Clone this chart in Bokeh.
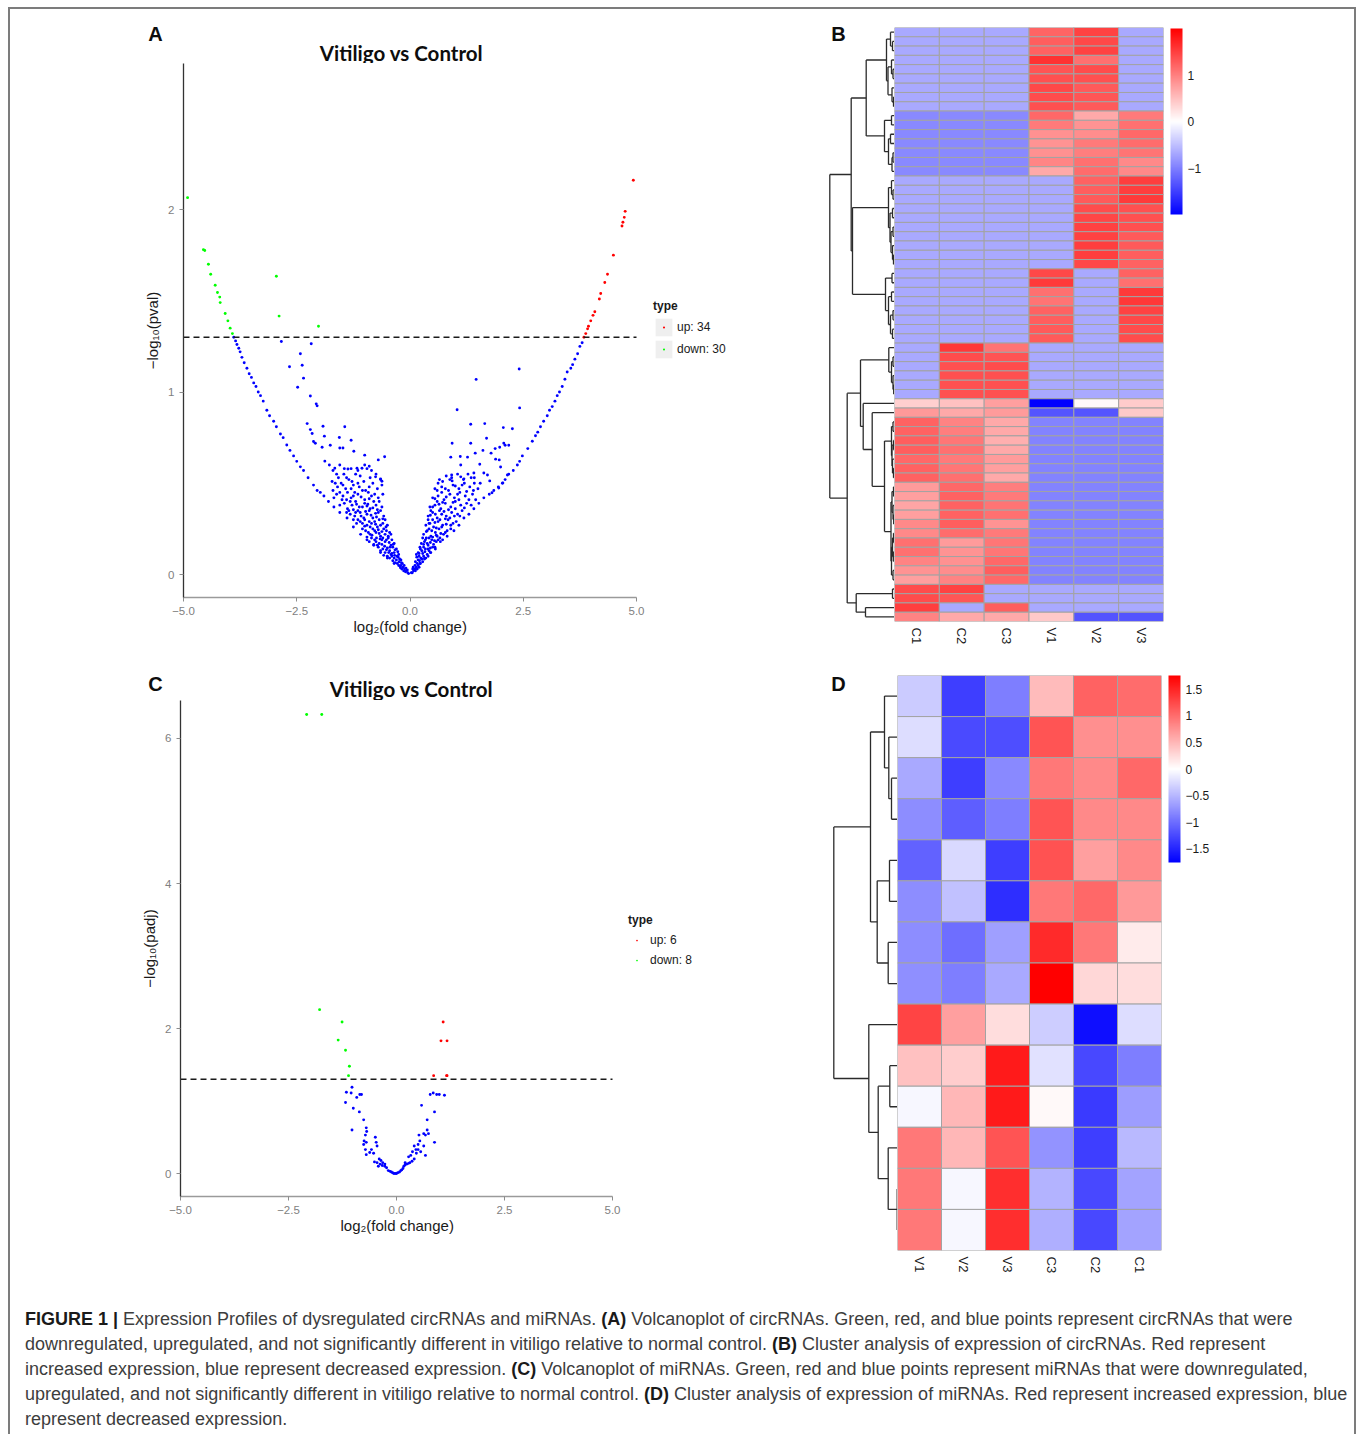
import math
from bokeh.plotting import figure
from bokeh.models import (Range1d, FactorRange, FixedTicker, Label, Legend, LegendItem, Title,
                          ColumnDataSource, LinearColorMapper, ColorBar, Div, Spacer)
from bokeh.layouts import row, column
from bokeh.embed import file_html
from bokeh.resources import INLINE

# ---------------- DATA ----------------
# Panel A: circRNA volcano (log2 fold change, -log10 pval)
a_green = [(-4.91, 2.065), (-4.56, 1.78), (-4.53, 1.775), (-4.45, 1.70), (-4.40, 1.645), (-4.30, 1.585),
           (-4.25, 1.545), (-4.20, 1.52), (-4.19, 1.49), (-4.08, 1.43), (-4.02, 1.39), (-3.97, 1.35),
           (-3.92, 1.32), (-2.95, 1.634), (-2.89, 1.416), (-2.02, 1.36)]
a_red = [(4.93, 2.16), (4.75, 1.99), (4.73, 1.957), (4.70, 1.93), (4.68, 1.91), (4.49, 1.75), (4.36, 1.645),
         (4.30, 1.60), (4.21, 1.54), (4.18, 1.51), (4.08, 1.44), (4.04, 1.42), (3.99, 1.39), (3.94, 1.36),
         (3.92, 1.346), (3.88, 1.32), (3.84, 1.30)]
a_blue_left_edge = [(-3.89, 1.30), (-3.85, 1.28), (-3.82, 1.26), (-3.78, 1.24), (-3.75, 1.22), (-3.71, 1.19),
                    (-3.66, 1.16), (-3.60, 1.13), (-3.55, 1.10), (-3.50, 1.08), (-3.45, 1.05), (-3.40, 1.03),
                    (-3.35, 1.00), (-3.30, 0.98), (-3.24, 0.95), (-3.16, 0.90), (-3.10, 0.87), (-3.01, 0.84),
                    (-2.95, 0.81), (-2.86, 0.77), (-2.80, 0.75), (-2.72, 0.71), (-2.65, 0.68), (-2.57, 0.65),
                    (-2.50, 0.62), (-2.42, 0.59), (-2.35, 0.57), (-2.25, 0.53), (-2.13, 0.49), (-2.05, 0.46),
                    (-1.98, 0.45), (-1.90, 0.43), (-1.80, 0.40), (-1.68, 0.37), (-1.55, 0.34), (-1.39, 0.31),
                    (-1.25, 0.26), (-1.09, 0.22), (-0.95, 0.19), (-0.80, 0.16), (-0.65, 0.12), (-0.50, 0.09),
                    (-0.35, 0.06), (-0.21, 0.037)]
a_blue_left_cloud = [
    (-0.05, 0.01), (-0.08, 0.02), (-0.12, 0.03), (-0.10, 0.015), (-0.15, 0.04), (-0.18, 0.03), (-0.20, 0.05),
    (-0.22, 0.045), (-0.06, 0.025), (-0.14, 0.02), (-0.25, 0.05), (-0.03, 0.005),
    (-0.17, 0.06), (-0.24, 0.07), (-0.30, 0.08), (-0.35, 0.09), (-0.28, 0.06), (-0.40, 0.10), (-0.20, 0.08),
    (-0.33, 0.065), (-0.45, 0.09), (-0.38, 0.075), (-0.26, 0.095), (-0.50, 0.10),
    (-0.25, 0.11), (-0.35, 0.12), (-0.45, 0.13), (-0.55, 0.12), (-0.60, 0.14), (-0.30, 0.14), (-0.50, 0.145),
    (-0.65, 0.13), (-0.40, 0.115), (-0.70, 0.15), (-0.38, 0.15), (-0.58, 0.105),
    (-0.35, 0.17), (-0.42, 0.16), (-0.55, 0.18), (-0.68, 0.17), (-0.78, 0.19), (-0.85, 0.20), (-0.48, 0.20),
    (-0.62, 0.19), (-0.72, 0.16), (-0.90, 0.18), (-0.40, 0.19), (-0.80, 0.165),
    (-0.42, 0.22), (-0.52, 0.24), (-0.65, 0.21), (-0.75, 0.23), (-0.88, 0.22), (-0.98, 0.24), (-1.05, 0.25),
    (-0.58, 0.25), (-0.70, 0.245), (-0.82, 0.25), (-0.48, 0.21), (-0.95, 0.205),
    (-0.50, 0.27), (-0.60, 0.28), (-0.72, 0.26), (-0.85, 0.28), (-0.95, 0.27), (-1.10, 0.29), (-1.18, 0.28),
    (-0.68, 0.30), (-1.00, 0.30), (-0.55, 0.30), (-0.78, 0.29), (-1.25, 0.30),
    (-0.58, 0.32), (-0.70, 0.34), (-0.82, 0.31), (-0.95, 0.33), (-1.08, 0.32), (-1.20, 0.34), (-1.32, 0.33),
    (-0.65, 0.35), (-0.90, 0.35), (-1.15, 0.35), (-1.40, 0.34), (-0.76, 0.335),
    (-0.62, 0.37), (-0.75, 0.38), (-0.88, 0.36), (-1.00, 0.39), (-1.12, 0.37), (-1.28, 0.38), (-1.45, 0.39),
    (-1.55, 0.38), (-0.68, 0.40), (-1.20, 0.40), (-1.38, 0.36), (-0.95, 0.375),
    (-0.70, 0.42), (-0.85, 0.43), (-1.00, 0.41), (-1.15, 0.44), (-1.30, 0.42), (-1.48, 0.43), (-1.62, 0.44),
    (-0.60, 0.44), (-0.92, 0.45), (-1.22, 0.45), (-1.40, 0.41), (-1.68, 0.42),
    (-0.72, 0.47), (-0.90, 0.48), (-1.05, 0.46), (-1.25, 0.49), (-1.42, 0.47), (-1.60, 0.48), (-1.70, 0.46),
    (-0.62, 0.49), (-1.15, 0.50), (-1.52, 0.50),
    (-0.65, 0.52), (-0.88, 0.53), (-1.10, 0.54), (-1.35, 0.52), (-1.58, 0.53), (-1.72, 0.51), (-1.20, 0.55),
    (-1.46, 0.55), (-0.85, 0.57), (-1.00, 0.60), (-1.30, 0.58), (-1.55, 0.60), (-1.70, 0.57), (-1.78, 0.60),
    (-0.95, 0.58)]
a_blue_left_dense = [
    (-0.09, 0.035), (-0.13, 0.05), (-0.19, 0.065), (-0.23, 0.085), (-0.29, 0.10), (-0.34, 0.105),
    (-0.42, 0.11), (-0.47, 0.12), (-0.52, 0.135), (-0.27, 0.125), (-0.33, 0.135), (-0.44, 0.15),
    (-0.56, 0.155), (-0.62, 0.165), (-0.75, 0.18), (-0.37, 0.165), (-0.46, 0.175), (-0.52, 0.19),
    (-0.60, 0.20), (-0.66, 0.195), (-0.74, 0.20), (-0.84, 0.215), (-0.92, 0.23), (-0.45, 0.23),
    (-0.55, 0.22), (-0.62, 0.235), (-0.68, 0.225), (-0.78, 0.24), (-0.88, 0.26), (-1.00, 0.265),
    (-1.05, 0.28), (-0.53, 0.26), (-0.65, 0.27), (-0.76, 0.275), (-0.90, 0.29), (-1.02, 0.31),
    (-1.15, 0.30), (-1.22, 0.32), (-0.60, 0.305), (-0.74, 0.315), (-0.86, 0.325), (-0.98, 0.345),
    (-1.10, 0.34), (-1.25, 0.355), (-1.35, 0.35), (-0.72, 0.355), (-0.82, 0.365), (-0.93, 0.385),
    (-1.05, 0.37), (-1.18, 0.385), (-1.32, 0.40), (-1.50, 0.41), (-0.80, 0.40), (-0.90, 0.415),
    (-1.08, 0.425), (-1.25, 0.43), (-1.38, 0.45), (-1.55, 0.45), (-0.78, 0.44), (-0.98, 0.46),
    (-1.12, 0.48), (-1.30, 0.47), (-1.48, 0.49), (-1.65, 0.50), (-0.82, 0.50), (-1.02, 0.51),
    (-1.28, 0.51), (-1.40, 0.53), (-1.62, 0.55), (-0.75, 0.55), (-1.15, 0.57), (-1.45, 0.58)]
a_blue_left_sparse = [(-2.84, 1.277), (-2.42, 1.21), (-2.38, 1.147), (-2.66, 1.138), (-2.18, 1.264),
                      (-2.35, 1.076), (-2.48, 1.026), (-2.20, 0.978), (-2.07, 0.935), (-2.05, 0.924),
                      (-2.27, 0.827), (-2.20, 0.794), (-2.16, 0.773), (-2.13, 0.729), (-2.09, 0.719),
                      (-1.92, 0.812), (-1.89, 0.758), (-1.44, 0.81), (-1.56, 0.751), (-1.30, 0.736),
                      (-1.76, 0.708), (-1.94, 0.697), (-1.55, 0.693), (-1.48, 0.693), (-1.24, 0.675),
                      (-1.00, 0.654), (-0.56, 0.645), (-0.70, 0.628), (-1.88, 0.621), (-1.66, 0.582),
                      (-1.37, 0.578), (-1.17, 0.582), (-1.06, 0.582), (-0.90, 0.593), (-0.76, 0.535),
                      (-0.65, 0.524), (-0.62, 0.511)]
a_blue_right_edge = [(3.80, 1.27), (3.75, 1.25), (3.70, 1.21), (3.64, 1.18), (3.59, 1.15), (3.55, 1.13),
                     (3.47, 1.11), (3.42, 1.07), (3.36, 1.03), (3.30, 1.00), (3.25, 0.98), (3.20, 0.95),
                     (3.14, 0.92), (3.08, 0.90), (3.03, 0.87), (2.95, 0.84), (2.88, 0.81), (2.82, 0.78),
                     (2.77, 0.76), (2.70, 0.73), (2.60, 0.69), (2.48, 0.65), (2.42, 0.62), (2.37, 0.60),
                     (2.28, 0.57), (2.18, 0.55), (2.10, 0.52), (2.04, 0.50), (1.95, 0.48), (1.85, 0.46),
                     (1.75, 0.44), (1.63, 0.42), (1.52, 0.39), (1.41, 0.36), (1.30, 0.33), (1.19, 0.31),
                     (1.08, 0.27), (0.97, 0.24), (0.82, 0.21), (0.67, 0.18), (0.55, 0.15), (0.45, 0.12),
                     (0.33, 0.09), (0.23, 0.06), (0.12, 0.03)]
a_blue_right_cloud = [
    (0.05, 0.01), (0.08, 0.02), (0.10, 0.03), (0.14, 0.04), (0.12, 0.02), (0.18, 0.05), (0.06, 0.03),
    (0.20, 0.04), (0.16, 0.03), (0.03, 0.01),
    (0.12, 0.07), (0.18, 0.08), (0.24, 0.09), (0.30, 0.10), (0.22, 0.06), (0.35, 0.09), (0.15, 0.095),
    (0.28, 0.07), (0.40, 0.10), (0.20, 0.10),
    (0.18, 0.12), (0.26, 0.13), (0.34, 0.14), (0.42, 0.13), (0.50, 0.15), (0.22, 0.15), (0.38, 0.11),
    (0.46, 0.12), (0.56, 0.14), (0.30, 0.15),
    (0.25, 0.17), (0.32, 0.18), (0.40, 0.16), (0.48, 0.19), (0.58, 0.18), (0.66, 0.20), (0.36, 0.20),
    (0.52, 0.165), (0.72, 0.19), (0.28, 0.20),
    (0.30, 0.22), (0.38, 0.24), (0.46, 0.21), (0.56, 0.23), (0.64, 0.25), (0.74, 0.22), (0.82, 0.24),
    (0.42, 0.25), (0.90, 0.25), (0.60, 0.21),
    (0.35, 0.27), (0.44, 0.28), (0.52, 0.26), (0.62, 0.29), (0.72, 0.27), (0.84, 0.30), (0.95, 0.28),
    (0.50, 0.30), (1.02, 0.29), (0.40, 0.30),
    (0.40, 0.32), (0.50, 0.34), (0.60, 0.31), (0.70, 0.33), (0.80, 0.32), (0.92, 0.34), (1.05, 0.33),
    (1.15, 0.35), (0.46, 0.35), (0.65, 0.35),
    (0.44, 0.37), (0.55, 0.38), (0.68, 0.36), (0.78, 0.39), (0.90, 0.37), (1.00, 0.40), (1.12, 0.38),
    (1.25, 0.39), (0.60, 0.40), (1.35, 0.38),
    (0.50, 0.42), (0.62, 0.43), (0.75, 0.41), (0.88, 0.44), (0.98, 0.42), (1.10, 0.45), (1.22, 0.43),
    (1.38, 0.44), (1.45, 0.41), (0.70, 0.45),
    (0.55, 0.47), (0.70, 0.48), (0.85, 0.46), (0.95, 0.49), (1.08, 0.47), (1.20, 0.50), (1.32, 0.48),
    (1.50, 0.47), (0.62, 0.50),
    (0.65, 0.52), (0.80, 0.54), (0.92, 0.53), (1.05, 0.55), (1.18, 0.52), (1.28, 0.55), (1.42, 0.53),
    (1.55, 0.50)]
a_blue_right_dense = [
    (0.07, 0.04), (0.11, 0.05), (0.16, 0.06), (0.21, 0.075), (0.26, 0.085), (0.32, 0.085), (0.14, 0.11),
    (0.20, 0.115), (0.28, 0.115), (0.33, 0.125), (0.40, 0.14), (0.45, 0.145), (0.23, 0.14), (0.30, 0.165),
    (0.38, 0.17), (0.45, 0.175), (0.54, 0.185), (0.62, 0.19), (0.34, 0.19), (0.42, 0.20), (0.50, 0.205),
    (0.58, 0.215), (0.68, 0.225), (0.78, 0.23), (0.36, 0.235), (0.48, 0.24), (0.58, 0.255), (0.70, 0.26),
    (0.80, 0.275), (0.90, 0.27), (0.42, 0.28), (0.55, 0.285), (0.66, 0.30), (0.78, 0.305), (0.88, 0.31),
    (0.98, 0.32), (1.10, 0.32), (0.45, 0.325), (0.56, 0.33), (0.75, 0.345), (0.85, 0.355), (1.00, 0.36),
    (1.20, 0.365), (0.50, 0.37), (0.64, 0.385), (0.72, 0.395), (0.95, 0.395), (1.08, 0.41), (1.30, 0.41),
    (0.55, 0.415), (0.80, 0.425), (1.05, 0.44), (1.25, 0.455), (1.40, 0.46), (0.60, 0.46), (0.78, 0.47),
    (1.00, 0.485), (1.15, 0.49), (1.42, 0.50), (0.72, 0.51), (0.88, 0.52), (1.12, 0.535), (1.35, 0.53)]
a_blue_right_sparse = [(2.41, 1.126), (1.46, 1.069), (2.42, 0.913), (1.04, 0.903), (1.34, 0.823),
                       (1.65, 0.827), (2.06, 0.805), (2.26, 0.799), (0.93, 0.719), (1.34, 0.719),
                       (1.69, 0.747), (2.07, 0.719), (2.10, 0.708), (1.98, 0.697), (2.18, 0.708),
                       (1.88, 0.690), (1.61, 0.680), (1.44, 0.665), (1.79, 0.665), (1.27, 0.643),
                       (1.11, 0.647), (0.90, 0.643), (1.97, 0.628), (1.89, 0.632), (2.00, 0.589),
                       (1.54, 0.604), (1.41, 0.556), (1.12, 0.600), (0.92, 0.545), (0.93, 0.513),
                       (1.19, 0.524), (1.63, 0.556), (1.71, 0.545), (1.76, 0.513), (2.15, 0.545),
                       (1.96, 0.474), (1.81, 0.448), (2.05, 0.502)]

# Panel C: miRNA volcano (log2 fold change, -log10 padj)
c_green = [(-2.08, 6.33), (-1.73, 6.33), (-1.78, 2.26), (-1.26, 2.09), (-1.35, 1.84), (-1.18, 1.70),
           (-1.09, 1.48), (-1.11, 1.35)]
c_red = [(1.08, 2.09), (1.03, 1.83), (1.17, 1.83), (0.86, 1.35), (1.17, 1.35), (1.16, 1.35)]
c_blue = [(-1.03, 1.19), (-1.05, 1.11), (-1.16, 1.12), (-0.85, 1.09), (-0.81, 1.09), (-1.18, 0.98),
          (-0.92, 1.05), (-1.00, 0.90), (-0.86, 0.85), (-0.76, 0.74), (-0.70, 0.63), (-0.69, 0.58),
          (-0.72, 0.53), (-1.03, 0.60), (-0.75, 0.45), (-0.70, 0.43), (-0.76, 0.40), (-0.72, 0.33),
          (-0.70, 0.26), (-0.49, 0.50), (-0.47, 0.43), (-0.45, 0.38), (-0.58, 0.33), (-0.53, 0.28),
          (-0.62, 0.29), (-0.40, 0.20), (-0.51, 0.16), (-0.45, 0.15), (-0.36, 0.18), (-0.32, 0.15),
          (-0.27, 0.13), (-0.27, 0.10), (-0.23, 0.08), (-0.19, 0.04), (-0.15, 0.03), (-0.12, 0.02),
          (-0.09, 0.01), (-0.06, 0.00), (-0.03, 0.00), (0.00, 0.00), (0.03, 0.01), (0.07, 0.02),
          (0.10, 0.04), (0.12, 0.05), (0.15, 0.07), (0.17, 0.10), (0.20, 0.12), (0.24, 0.13),
          (0.28, 0.14), (0.31, 0.15), (0.36, 0.17), (0.41, 0.20), (0.46, 0.28), (0.41, 0.38),
          (0.50, 0.40), (0.54, 0.45), (0.52, 0.53), (0.63, 0.55), (0.67, 0.53), (0.74, 0.55),
          (0.71, 0.60), (0.63, 0.38), (0.67, 0.25), (0.88, 0.43), (0.71, 0.74), (0.58, 0.94),
          (0.88, 0.85), (0.78, 1.09), (0.85, 1.11), (0.93, 1.09), (0.99, 1.09), (1.11, 1.08),
          (0.50, 0.33), (0.37, 0.30), (0.28, 0.23), (0.20, 0.15), (-0.38, 0.13), (-0.42, 0.10),
          (-0.33, 0.11), (0.45, 0.33), (0.56, 0.30), (0.33, 0.25)]

a_threshold = 1.30
c_threshold = 1.30
x_ticks = [-5, -2.5, 0, 2.5, 5]
x_tick_labels = ["\u22125.0", "\u22122.5", "0.0", "2.5", "5.0"]
a_y_ticks = [0, 1, 2]
c_y_ticks = [0, 2, 4, 6]
a_legend_labels = ["up: 34", "down: 30"]
c_legend_labels = ["up: 6", "down: 8"]
plot_title = "Vitiligo vs Control"
x_label = "log\u2082(fold change)"

# Panel B: circRNA heatmap (row-scaled expression)
b_samples = ["C1", "C2", "C3", "V1", "V2", "V3"]
b_values = [
    [-0.68, -0.68, -0.68, 1.20, 1.47, -0.68],
    [-0.68, -0.68, -0.68, 1.25, 1.43, -0.68],
    [-0.68, -0.68, -0.68, 1.22, 1.47, -0.68],
    [-0.68, -0.68, -0.68, 1.60, 1.12, -0.68],
    [-0.68, -0.68, -0.68, 1.33, 1.40, -0.68],
    [-0.68, -0.68, -0.68, 1.37, 1.37, -0.68],
    [-0.68, -0.68, -0.68, 1.42, 1.29, -0.68],
    [-0.68, -0.68, -0.68, 1.40, 1.31, -0.68],
    [-0.68, -0.68, -0.68, 1.37, 1.28, -0.68],
    [-0.93, -0.93, -0.93, 1.17, 0.67, 1.04],
    [-0.93, -0.93, -0.93, 1.04, 0.84, 1.12],
    [-0.93, -0.93, -0.93, 0.87, 0.90, 1.17],
    [-0.93, -0.93, -0.93, 0.84, 1.03, 1.15],
    [-0.93, -0.93, -0.93, 0.87, 1.00, 1.09],
    [-0.93, -0.93, -0.93, 0.95, 1.12, 0.93],
    [-0.93, -0.93, -0.93, 0.68, 1.15, 0.92],
    [-0.67, -0.67, -0.67, -0.67, 1.22, 1.50],
    [-0.67, -0.67, -0.67, -0.67, 1.25, 1.50],
    [-0.67, -0.67, -0.67, -0.67, 1.28, 1.53],
    [-0.67, -0.67, -0.67, -0.67, 1.40, 1.37],
    [-0.67, -0.67, -0.67, -0.67, 1.45, 1.36],
    [-0.67, -0.67, -0.67, -0.67, 1.47, 1.37],
    [-0.67, -0.67, -0.67, -0.67, 1.47, 1.29],
    [-0.67, -0.67, -0.67, -0.67, 1.50, 1.28],
    [-0.67, -0.67, -0.67, -0.67, 1.50, 1.25],
    [-0.67, -0.67, -0.67, -0.67, 1.43, 1.22],
    [-0.67, -0.67, -0.67, 1.43, -0.67, 1.22],
    [-0.67, -0.67, -0.67, 1.53, -0.67, 1.12],
    [-0.67, -0.67, -0.67, 1.12, -0.67, 1.53],
    [-0.67, -0.67, -0.67, 1.09, -0.67, 1.56],
    [-0.67, -0.67, -0.67, 1.22, -0.67, 1.47],
    [-0.67, -0.67, -0.67, 1.25, -0.67, 1.43],
    [-0.67, -0.67, -0.67, 1.28, -0.67, 1.40],
    [-0.67, -0.67, -0.67, 1.29, -0.67, 1.40],
    [-0.67, 1.55, 1.09, -0.67, -0.67, -0.67],
    [-0.67, 1.40, 1.33, -0.67, -0.67, -0.67],
    [-0.67, 1.37, 1.40, -0.67, -0.67, -0.67],
    [-0.67, 1.36, 1.37, -0.67, -0.67, -0.67],
    [-0.67, 1.37, 1.36, -0.67, -0.67, -0.67],
    [-0.67, 1.36, 1.37, -0.67, -0.67, -0.67],
    [0.37, 0.49, 0.75, -2.00, 0.05, 0.40],
    [0.80, 0.67, 0.78, -1.33, -1.33, 0.43],
    [1.22, 0.97, 0.67, -0.97, -0.97, -0.97],
    [1.22, 1.00, 0.67, -0.97, -0.97, -0.97],
    [1.25, 1.06, 0.62, -0.97, -0.97, -0.97],
    [1.25, 1.12, 0.67, -0.97, -0.97, -0.97],
    [1.18, 1.03, 0.78, -0.97, -0.97, -0.97],
    [1.22, 1.06, 0.75, -0.97, -0.97, -0.97],
    [1.22, 1.12, 0.68, -0.97, -0.97, -0.97],
    [0.78, 1.18, 1.00, -0.97, -0.97, -0.97],
    [0.75, 1.22, 1.03, -0.97, -0.97, -0.97],
    [0.71, 1.22, 1.09, -0.97, -0.97, -0.97],
    [0.75, 1.22, 1.12, -0.97, -0.97, -0.97],
    [0.93, 1.25, 0.84, -0.97, -0.97, -0.97],
    [0.92, 1.15, 1.03, -0.97, -0.97, -0.97],
    [1.12, 0.78, 1.06, -0.97, -0.97, -0.97],
    [1.12, 0.84, 1.06, -0.97, -0.97, -0.97],
    [0.97, 0.87, 1.18, -0.97, -0.97, -0.97],
    [0.84, 0.90, 1.25, -0.97, -0.97, -0.97],
    [0.75, 0.97, 1.18, -0.97, -0.97, -0.97],
    [1.40, 1.47, -0.67, -0.67, -0.67, -0.67],
    [1.40, 1.31, -0.67, -0.67, -0.67, -0.67],
    [1.50, -0.67, 1.25, -0.67, -0.67, -0.67],
    [0.97, 0.68, 0.68, 0.43, -1.33, -1.33],
]
# row dendrogram: [merge height, left, right], leaves = row index
b_tree = [64.7,
          [43.3,
           [28.3,
            [8, [4, 0, [2, 1, 2]], [6.5, [3, 3, [1.5, 4, 5]], [2.5, 6, [1, 7, 8]]]],
            [10, [3, 9, 10], [6, [4, 11, 12], [2.5, [1.5, 13, 14], 15]]]],
           [42,
            [6, [3, 16, [1.5, 17, 18]], [4.5, [2, 19, 20], [3.5, [1.5, 21, 22], [2, 23, [1, 24, 25]]]]],
            [9, [2.5, 26, 27], [6, [3, 28, 29], [4, [1.5, 30, 31], [2, 32, 33]]]]]],
          [47.3,
           [34,
            [5.7, 34, [3, [1.5, 35, 36], [1.5, 37, [0.8, 38, 39]]]],
            [31.3, 40,
             [22.3, 41,
              [10,
               [3, [1.5, 42, 43], [2.5, [1, 44, 45], [2, 46, [1, 47, 48]]]],
               [3.5, [2.5, [1, 49, 50], [1.5, 51, [0.8, 52, 53]]],
                [3, [2, [1, 54, 55], [1.2, 56, 57]], [1.5, 58, 59]]]]]]],
           [38.3, [2, 60, 61], [29, 62, 63]]]]
b_color_ticks = [-1, 0, 1]
b_color_range = (-2.0, 2.0)

# Panel D: miRNA heatmap
d_samples = ["V1", "V2", "V3", "C3", "C2", "C1"]
d_values = [
    [-0.36, -1.33, -0.89, 0.47, 1.08, 1.01],
    [-0.24, -1.24, -1.21, 1.17, 0.77, 0.77],
    [-0.60, -1.32, -0.81, 0.93, 0.82, 1.04],
    [-0.79, -1.10, -0.88, 1.17, 0.82, 0.81],
    [-1.07, -0.26, -1.32, 1.19, 0.66, 0.81],
    [-0.79, -0.43, -1.43, 0.93, 1.03, 0.71],
    [-0.79, -0.99, -0.66, 1.47, 0.93, 0.14],
    [-0.77, -0.88, -0.60, 1.76, 0.28, 0.24],
    [1.29, 0.66, 0.24, -0.35, -1.65, -0.24],
    [0.43, 0.35, 1.58, -0.21, -1.26, -0.88],
    [-0.06, 0.50, 1.58, 0.04, -1.35, -0.68],
    [0.93, 0.50, 1.17, -0.74, -1.32, -0.49],
    [0.93, -0.06, 1.43, -0.52, -1.26, -0.63],
    [0.93, -0.06, 1.43, -0.55, -1.26, -0.63],
]
d_tree = [63.7,
          [27, [13, 0, [8.7, 1, [6, 2, 3]]], [20.3, [8, 4, 5], [9.3, 6, 7]]],
          [28.7, 8, [19.3, [7.7, 9, 10], [9.3, 11, [0.3, 12, 13]]]]]
d_color_ticks = [-1.5, -1, -0.5, 0, 0.5, 1, 1.5]
d_color_range = (-1.76, 1.76)

B = "<b style='color:#1a1a1a;font-weight:bold'>"
caption_lines = [
    B + "FIGURE 1 |</b> Expression Profiles of dysregulated circRNAs and miRNAs. " + B + "(A)</b> Volcanoplot of circRNAs. Green, red, and blue points represent circRNAs that were",
    "downregulated, upregulated, and not significantly different in vitiligo relative to normal control. " + B + "(B)</b> Cluster analysis of expression of circRNAs. Red represent",
    "increased expression, blue represent decreased expression. " + B + "(C)</b> Volcanoplot of miRNAs. Green, red and blue points represent miRNAs that were downregulated,",
    "upregulated, and not significantly different in vitiligo relative to normal control. " + B + "(D)</b> Cluster analysis of expression of miRNAs. Red represent increased expression, blue",
    "represent decreased expression.",
]

# ---------------- HELPERS ----------------
FONT = "Liberation Sans"
NAN = float("nan")


def base_fig(**kw):
    p = figure(output_backend="svg", toolbar_location=None, **kw)
    if "frame_align" in p.properties():
        p.frame_align = False
    p.background_fill_color = "white"
    p.border_fill_color = "white"
    p.outline_line_color = None
    for g in p.grid:
        g.visible = False
    return p


def bwr_palette(n=255):
    pal = []
    for i in range(n):
        t = i / (n - 1) * 2 - 1
        if t < 0:
            c = int(round(255 * (1 + t)))
            pal.append("#%02x%02xff" % (c, c))
        else:
            c = int(round(255 * (1 - t)))
            pal.append("#ff%02x%02x" % (c, c))
    return pal


def xy(points):
    return [p[0] for p in points], [p[1] for p in points]


def add_label(p, text, x, y, size, font, bold=True, baseline="middle"):
    p.add_layout(Label(x=x, y=y, x_units="screen", y_units="screen", text=text, text_align="center",
                       text_baseline=baseline, text_font=font, text_font_size=size,
                       text_font_style="bold" if bold else "normal", text_color="#0d0d0d"))


def header(width, height, items):
    p = base_fig(width=width, height=height, x_range=Range1d(0, 1), y_range=Range1d(0, 1),
                 x_axis_location=None, y_axis_location=None,
                 min_border_left=0, min_border_right=0, min_border_top=0, min_border_bottom=0)
    for text, x, y, size, font in items:
        add_label(p, text, x, y, size, font)
    return p


def volcano(width, height, bl, bb, px_x, yr, yticks, ylabel, blue, green, red, thr,
            leg_labels, leg_loc, gray_keys, xlabel_offset):
    # frame runs to the right edge so that the legend sits inside it; x axis is bounded to [-5, 5]
    frame_w = width - bl
    xr = (x_ticks[0], x_ticks[0] + frame_w / px_x)
    p = base_fig(width=width, height=height, x_range=Range1d(*xr), y_range=Range1d(*yr),
                 min_border_left=bl, min_border_right=0, min_border_top=0, min_border_bottom=bb)
    bx, by = xy(blue)
    gx, gy = xy(green)
    rx, ry = xy(red)
    p.scatter(bx, by, marker="circle", size=2.9, fill_color="#0000ff", line_color=None)
    p.scatter(gx, gy, marker="circle", size=2.9, fill_color="#00ff00", line_color=None)
    p.scatter(rx, ry, marker="circle", size=2.9, fill_color="#ff0000", line_color=None)
    p.segment(x0=[x_ticks[0]], x1=[x_ticks[-1]], y0=[thr], y1=[thr], line_color="#1a1a1a",
              line_dash="6 4", line_width=1.5)

    p.xaxis.ticker = FixedTicker(ticks=x_ticks)
    p.xaxis.major_label_overrides = {t: l for t, l in zip(x_ticks, x_tick_labels)}
    p.xaxis.bounds = (x_ticks[0], x_ticks[-1])
    p.yaxis.ticker = FixedTicker(ticks=yticks)
    p.yaxis.axis_label = ylabel
    for ax in (p.xaxis[0], p.yaxis[0]):
        ax.major_tick_in = 0
        ax.major_tick_out = 4
        ax.major_tick_line_color = "#8c8c8c"
        ax.minor_tick_line_color = None
        ax.major_label_text_color = "#7f7f7f"
        ax.major_label_text_font = FONT
        ax.major_label_text_font_size = "11.5px"
        ax.axis_label_text_font = FONT
        ax.axis_label_text_font_size = "15px"
        ax.axis_label_text_font_style = "normal"
        ax.axis_label_text_color = "#1a1a1a"
    p.xaxis.axis_line_color = "#9a9a9a"
    p.xaxis.axis_line_width = 1.3
    p.yaxis.axis_line_color = "#333333"
    p.yaxis.axis_line_width = 1.3
    p.yaxis.axis_label_standoff = 4
    # x-axis title placed under the bounded axis (centred on -5..5, not on the wider frame)
    p.add_layout(Title(text=x_label, align="left", offset=xlabel_offset, vertical_align="top", standoff=0,
                       text_font=FONT, text_font_size="15px", text_font_style="normal",
                       text_color="#1a1a1a"), "below")

    # legend keys: renderers whose single point is NaN (never drawn in the plot)
    items = []
    for lab, col in zip(leg_labels, ["#ff0000", "#00ff00"]):
        rends = []
        if gray_keys:
            rends.append(p.quad(left=[NAN], right=[NAN], top=[NAN], bottom=[NAN],
                                fill_color="#efefef", line_color=None))
        rends.append(p.scatter(x=[NAN], y=[NAN], marker="dot", size=8, line_color=col, fill_color=col))
        items.append(LegendItem(label=lab, renderers=rends))
    gw, gh = (21, 22) if gray_keys else (17, 20)
    leg = Legend(items=items, title="type", location=leg_loc, glyph_width=gw, glyph_height=gh,
                 label_height=gh, label_standoff=3 if gray_keys else 5, spacing=0, padding=0, margin=0,
                 border_line_color=None, background_fill_alpha=0,
                 label_text_font=FONT, label_text_font_size="12px", label_text_color="#1a1a1a",
                 title_text_font=FONT, title_text_font_size="12px", title_text_font_style="bold",
                 title_text_color="#1a1a1a", title_standoff=3)
    p.add_layout(leg)
    return p


def dendro_segments(node, out):
    if isinstance(node, int):
        return node + 0.5, 0.0
    h, left, right = node
    yl, hl = dendro_segments(left, out)
    yr, hr = dendro_segments(right, out)
    out.append((hl, yl, h, yl))
    out.append((hr, yr, h, yr))
    out.append((h, yl, h, yr))
    return (yl + yr) / 2, h


def dendrogram(width, height, bl, bt, bb, tree, nrows, row_top, letter, letter_pos):
    frame_w = width - bl
    p = base_fig(width=width, height=height, x_range=Range1d(frame_w, 0), y_range=Range1d(nrows, row_top),
                 x_axis_location=None, y_axis_location=None,
                 min_border_left=bl, min_border_right=0, min_border_top=bt, min_border_bottom=bb)
    segs = []
    dendro_segments(tree, segs)
    p.segment(x0=[s[0] for s in segs], y0=[s[1] for s in segs], x1=[s[2] for s in segs],
              y1=[s[3] for s in segs], line_color="#2b2b2b", line_width=1.3)
    add_label(p, letter, letter_pos[0], letter_pos[1], "20px", FONT)
    return p


def fmt_tick(t):
    s = ("%g" % abs(t))
    return ("\u2212" + s) if t < 0 else s


def heatmap(width, height, br, bt, bb, samples, values, crange, cticks, cb_loc, cb_h):
    nrows = len(values)
    p = base_fig(width=width, height=height, x_range=FactorRange(*samples), y_range=Range1d(nrows, 0),
                 x_axis_location="below", y_axis_location=None,
                 min_border_left=0, min_border_right=br, min_border_top=bt, min_border_bottom=bb)
    xs, ys, vs = [], [], []
    for i, r in enumerate(values):
        for s, v in zip(samples, r):
            xs.append(s)
            ys.append(i + 0.5)
            vs.append(v)
    mapper = LinearColorMapper(palette=bwr_palette(), low=crange[0], high=crange[1])
    src = ColumnDataSource(dict(x=xs, y=ys, v=vs))
    p.rect(x="x", y="y", width=1, height=1, source=src, fill_color={"field": "v", "transform": mapper},
           line_color="#a3a3a3", line_width=1)
    ax = p.xaxis[0]
    ax.axis_line_color = None
    ax.major_tick_line_color = None
    ax.minor_tick_line_color = None
    ax.major_label_orientation = -math.pi / 2
    ax.major_label_text_font = FONT
    ax.major_label_text_font_size = "13px"
    ax.major_label_text_color = "#1a1a1a"
    ax.major_label_standoff = 0
    cb = ColorBar(color_mapper=mapper, ticker=FixedTicker(ticks=cticks),
                  major_label_overrides={t: fmt_tick(t) for t in cticks},
                  width=12, height=cb_h, location=cb_loc, padding=0, margin=0, bar_line_color=None,
                  major_tick_line_color=None, minor_tick_line_color=None, label_standoff=5,
                  major_label_text_font=FONT, major_label_text_font_size="12px",
                  major_label_text_color="#1a1a1a", background_fill_alpha=0, border_line_color=None)
    p.add_layout(cb)
    return p


# ---------------- FIGURES ----------------
# top row (page y 9..660)
hA = header(760, 54, [("A", 145, 30, "20px", FONT), (plot_title, 391, 11, "20.5px", "Lato")])
pA = volcano(760, 597, 173, 63, 45.3, (-0.126, 2.80), a_y_ticks, "\u2212log\u2081\u2080(pval)",
             a_blue_left_edge + a_blue_left_cloud + a_blue_left_dense + a_blue_left_sparse
             + a_blue_right_edge + a_blue_right_cloud + a_blue_right_dense + a_blue_right_sparse,
             a_green, a_red, a_threshold, a_legend_labels, (470, 237), True, 170)
pBd = dendrogram(124, 651, 55, 11, 39, b_tree, len(b_values), -0.754, "B", (13, 588))
pB = heatmap(460, 651, 191, 18, 39, b_samples, b_values, b_color_range, b_color_ticks, (276, 407), 186)

# bottom row (page y 660..1290)
hC = header(760, 40, [("C", 145, 17, "20px", FONT), (plot_title, 401, 12, "20.5px", "Lato")])
pC = volcano(760, 590, 170, 94, 43.2, (-0.317, 6.524), c_y_ticks, "\u2212log\u2081\u2080(padj)",
             c_blue, c_green, c_red, c_threshold, c_legend_labels, (448, 226), False, 160)
pDd = dendrogram(127, 630, 55, 10, 40, d_tree, len(d_values), -0.122, "D", (13, 567))
pD = heatmap(457, 630, 193, 15, 40, d_samples, d_values, d_color_range, d_color_ticks, (271, 388), 187)

caption = Div(text=(
    "<div style=\"font-family:'Liberation Sans',Arial,sans-serif;font-size:18px;line-height:25px;"
    "color:#3d3d3d;white-space:nowrap;padding:17px 0 0 15px;\">"
    + "<br>".join(caption_lines) + "</div>"),
    width=1344, height=144, margin=0)

GRAY = "#7c7c7c"
content = column(row(column(hA, pA), pBd, pB), row(column(hC, pC), pDd, pD), caption)
left_border = Div(text="", width=2, height=1425, margin=0, styles={"background-color": GRAY})
right_border = Div(text="", width=2, height=1425, margin=0, styles={"background-color": GRAY})
top_border = Div(text="", width=1348, height=2, margin=0, styles={"background-color": GRAY})
framed = column(top_border, row(left_border, content, right_border))
page = column(Spacer(width=1358, height=7, margin=0), row(Spacer(width=8, height=1427, margin=0), framed))

open("out.html", "w").write(file_html(page, INLINE))
